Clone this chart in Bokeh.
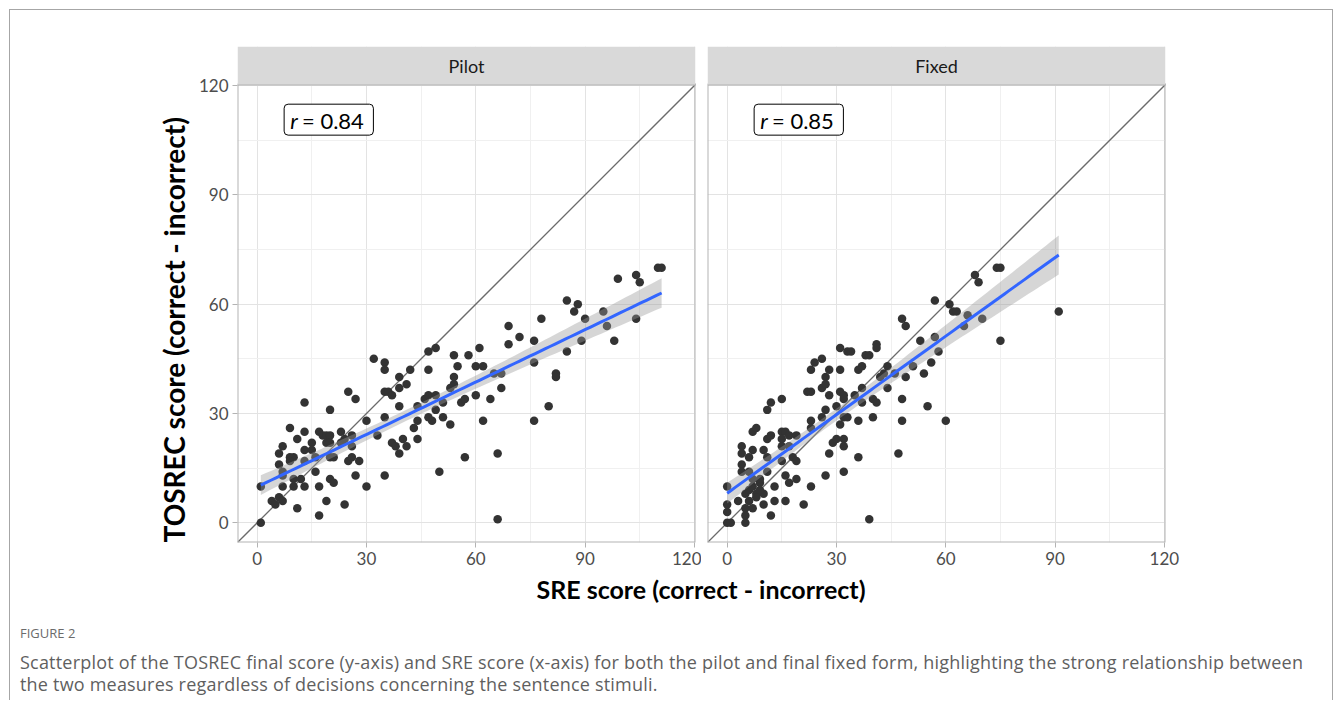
import numpy as np
from bokeh.plotting import figure
from bokeh.models import Range1d, FixedTicker, Slope, Label, BoxAnnotation, Div, Title
from bokeh.layouts import row, column
from bokeh.embed import file_html
from bokeh.resources import INLINE

# ---------------- data ----------------
panel_names = ["Pilot", "Fixed"]
r_values = ["0.84", "0.85"]
tick_values = [0, 30, 60, 90, 120]
minor_tick_values = [15, 45, 75, 105]
x_title = "SRE score (correct - incorrect)"
y_title = "TOSREC score (correct - incorrect)"
fig_label = "FIGURE 2"
caption_lines = [
    "Scatterplot of the TOSREC final score (y-axis) and SRE score (x-axis) for both the pilot and final fixed form, highlighting the strong relationship between",
    "the two measures regardless of decisions concerning the sentence stimuli.",
]

pilot_x = [1, 1, 4, 5, 6, 7, 11, 17, 19, 24,
           7, 10, 10, 12, 13, 17, 16, 20, 21, 27, 30,
           6, 7, 9, 10, 6, 7, 9, 11, 13, 13, 13, 15, 15,
           17, 18, 19, 20, 19, 20, 20, 21, 20, 23, 24, 25, 27,
           26, 26, 25, 26, 28, 30, 32, 33, 35, 35, 35, 36, 37,
           35, 35, 37, 38, 39, 39, 39, 41, 39, 40, 41, 42,
           43, 44, 44, 44, 46, 47, 49, 47, 49, 47, 47, 48, 49,
           50, 51, 51, 53, 53, 54, 54, 54, 55, 56, 57, 57, 58,
           60, 62, 61, 60, 62, 64, 65, 67, 66, 66, 67, 69, 69,
           72, 76, 76, 76, 78, 80, 82, 82, 85, 85, 87, 88, 89,
           90, 95, 96, 98, 99, 104, 105, 104, 110, 111,
           16, 13, 9, 23, 7]
pilot_y = [0, 10, 6, 5, 7, 6, 4, 2, 6, 5,
           10, 10, 12, 12, 10, 10, 14, 12, 11, 13, 10,
           16, 14, 18, 18, 19, 21, 26, 23, 33, 25, 20, 22, 20,
           25, 24, 24, 24, 22, 22, 31, 18, 18, 25, 23, 36, 34,
           24, 21, 17, 18, 17, 28, 45, 24, 44, 42, 36, 36, 35,
           29, 13, 22, 21, 19, 40, 37, 38, 32, 23, 21, 42,
           26, 28, 23, 32, 34, 35, 35, 47, 48, 42, 29, 28, 31,
           14, 33, 29, 27, 37, 40, 38, 46, 43, 33, 34, 18, 46,
           43, 43, 48, 35, 28, 34, 41, 41, 19, 1, 37, 54, 49,
           51, 50, 44, 28, 56, 32, 41, 40, 61, 47, 58, 60, 50,
           56, 58, 54, 50, 67, 68, 66, 56, 70, 70,
           18, 17, 17, 22, 13]

fixed_x = [0, 1, 5, 0, 0, 3, 5, 5, 7, 6, 10, 12, 13, 16, 21, 39,
           0, 5, 6, 7, 9, 8, 9, 10, 13, 11, 16, 17, 19, 23, 27, 32, 36, 28, 47,
           4, 4, 4, 4, 6, 7, 7, 8, 10, 11, 11, 12, 11, 12, 15,
           15, 16, 15, 15, 17, 19, 15, 18, 19, 23, 23, 26, 27, 22, 23,
           23, 24, 26, 26, 27, 28, 27, 28, 29, 30, 32, 32, 31, 31,
           31, 32, 32, 30, 31, 32, 33, 33, 34, 35, 36, 36, 37, 37, 37,
           38, 39, 40, 41, 40, 41, 41, 42, 43, 44, 44, 46, 48, 48,
           48, 49, 49, 51, 53, 54, 55, 56, 57, 57, 58, 60, 61, 62, 63,
           65, 66, 70, 68, 69, 74, 75, 75, 91,
           8, 9, 6, 7, 17]
fixed_y = [0, 0, 0, 3, 5, 6, 2, 4, 4, 6, 5, 2, 6, 6, 5, 1,
           10, 8, 9, 10, 11, 8, 12, 8, 10, 14, 13, 11, 12, 10, 13, 14, 18, 19, 19,
           16, 14, 21, 19, 18, 20, 25, 26, 20, 18, 23, 24, 31, 33, 34,
           25, 25, 23, 21, 24, 24, 17, 18, 17, 28, 26, 29, 31, 36, 36,
           42, 44, 45, 37, 40, 42, 38, 35, 22, 23, 23, 21, 48, 42,
           36, 35, 34, 32, 27, 29, 29, 47, 47, 35, 28, 42, 43, 33, 37,
           46, 46, 34, 33, 29, 49, 48, 40, 41, 43, 37, 41, 34, 28,
           56, 54, 40, 43, 50, 41, 32, 44, 61, 51, 47, 28, 60, 58, 58,
           54, 57, 56, 68, 66, 70, 70, 50, 58,
           7, 9, 14, 12, 21]

# ---------------- layout constants ----------------
LO, HI = -5.4, 120.3
STRIP_TOP = 130.73
FRAME_W, FRAME_H = 458, 496
T_CRIT = 1.976

POINT_COLOR = "#333333"
GRID_MAJOR = "#e3e3e3"
GRID_MINOR = "#f0f0f0"
BORDER = "#b3b3b3"
TICK_TEXT = "#4d4d4d"


def fit_band(xs, ys):
    x = np.asarray(xs, float)
    y = np.asarray(ys, float)
    n = len(x)
    b, a = np.polyfit(x, y, 1)
    gx = np.linspace(x.min(), x.max(), 80)
    pred = a + b * gx
    resid = y - (a + b * x)
    s = np.sqrt(np.sum(resid ** 2) / (n - 2))
    se = s * np.sqrt(1.0 / n + (gx - x.mean()) ** 2 / np.sum((x - x.mean()) ** 2))
    return gx, pred, pred - T_CRIT * se, pred + T_CRIT * se


def make_ticker():
    return FixedTicker(ticks=tick_values, minor_ticks=minor_tick_values)


def make_panel(name, xs, ys, rval, first):
    p = figure(frame_width=FRAME_W, frame_height=FRAME_H,
               x_range=Range1d(LO, HI), y_range=Range1d(LO, STRIP_TOP),
               min_border_left=227 if first else 6,
               min_border_right=6 if first else 167,
               min_border_top=36, min_border_bottom=32,
               y_axis_location="left" if first else None,
               output_backend="svg", toolbar_location=None)
    p.outline_line_color = None
    p.background_fill_color = "white"
    p.border_fill_color = "white"

    p.xaxis.ticker = make_ticker()
    axes = list(p.xaxis)
    if first:
        p.yaxis.ticker = make_ticker()
        axes += list(p.yaxis)
    for ax in axes:
        ax.axis_line_color = None
        ax.major_tick_line_color = BORDER
        ax.major_tick_out = 5
        ax.major_tick_in = 0
        ax.minor_tick_line_color = None
        ax.major_label_text_font = "Lato"
        ax.major_label_text_font_size = "17px"
        ax.major_label_text_color = TICK_TEXT
        ax.major_label_standoff = 4
    for g in p.grid:
        g.ticker = make_ticker()
        g.grid_line_color = GRID_MAJOR
        g.grid_line_width = 1
        g.minor_grid_line_color = GRID_MINOR
        g.minor_grid_line_width = 1

    diag = Slope(gradient=1, y_intercept=0, line_color="#6b6b6b", line_width=1.3, level="underlay")
    p.add_layout(diag)

    p.scatter(xs, ys, size=8.5, fill_color=POINT_COLOR, line_color=None)
    gx, pred, lo, hi = fit_band(xs, ys)
    p.varea(x=gx, y1=lo, y2=hi, fill_color="#999999", fill_alpha=0.4)
    p.line(gx, pred, line_color="#3366FF", line_width=3)

    # panel border and strip
    p.quad(left=[LO], right=[HI], bottom=[LO], top=[HI], fill_color=None,
           line_color=BORDER, line_width=2)
    p.quad(left=[LO], right=[HI], bottom=[HI], top=[STRIP_TOP], fill_color="#d9d9d9",
           line_color=None)
    p.add_layout(Label(x=(LO + HI) / 2, y=(HI + STRIP_TOP) / 2, text=name,
                       text_align="center", text_baseline="middle",
                       text_font="Lato", text_font_size="18px", text_color="#1a1a1a"))

    # correlation label
    p.add_layout(BoxAnnotation(left=7.4, right=31.9, bottom=106.4, top=114.9,
                               fill_color="white", fill_alpha=1.0, line_color="black",
                               line_alpha=1.0, line_width=1, border_radius=4))
    p.add_layout(Label(x=9.1, y=110.4, text="r", text_font="Lato", text_font_style="italic",
                       text_font_size="22px", text_color="black", text_baseline="middle"))
    p.add_layout(Label(x=12.3, y=110.4, text="= " + rval, text_font="Lato",
                       text_font_size="22px", text_color="black", text_baseline="middle"))

    if first:
        p.add_layout(Title(text=y_title, align="left", offset=0, standoff=9,
                           text_font="Lato", text_font_style="bold",
                           text_font_size="28px", text_color="black"), "left")
    return p


left = make_panel(panel_names[0], pilot_x, pilot_y, r_values[0], True)
right = make_panel(panel_names[1], fixed_x, fixed_y, r_values[1], False)

bottom_html = (
    f'<div style="padding-top:1px;margin-left:60px;width:1262px;text-align:center;'
    f'font-family:Lato;font-weight:700;font-size:25px;line-height:28px;color:#000;">{x_title}</div>'
    f'<div style="margin-left:10px;margin-top:22px;font-family:\'Open Sans\';font-size:13px;'
    f'line-height:16px;color:#6b6b6b;">{fig_label}</div>'
    f'<div style="margin-left:10px;margin-top:10px;font-family:\'Open Sans\';font-size:18px;'
    f'letter-spacing:0.2px;line-height:22px;color:#5f5f5f;white-space:nowrap;">'
    f'{caption_lines[0]}<br>{caption_lines[1]}</div>'
)
bottom = Div(text=bottom_html, width=1322, height=126, margin=0)

layout = column(row(left, right), bottom, margin=(9, 0, 0, 9), width=1324,
                sizing_mode="fixed",
                styles={"border": "1px solid #a6a6a6", "border-bottom": "none",
                        "box-sizing": "border-box"})

open("out.html", "w").write(file_html(layout, INLINE))
